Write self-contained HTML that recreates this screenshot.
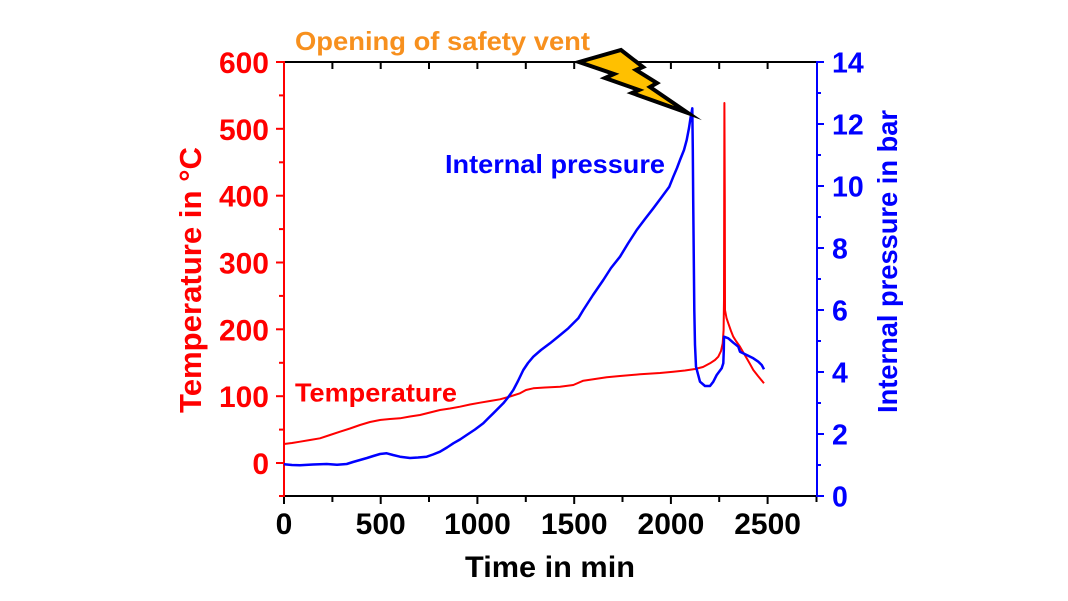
<!DOCTYPE html>
<html>
<head>
<meta charset="utf-8">
<style>
  html,body{margin:0;padding:0;background:#fff;}
  svg{display:block;}
  text{font-family:"Liberation Sans",Arial,sans-serif;font-weight:bold;}
</style>
</head>
<body>
<svg width="1068" height="601" viewBox="0 0 1068 601" xmlns="http://www.w3.org/2000/svg">
  <rect width="1068" height="601" fill="#fff"/>

  <!-- top axis (black) with inward ticks every 250 -->
  <line x1="284" y1="62" x2="817" y2="62" stroke="#000" stroke-width="2"/>
  <g stroke="#000" stroke-width="2">
    <line x1="332.4" y1="62" x2="332.4" y2="69"/>
    <line x1="380.7" y1="62" x2="380.7" y2="69"/>
    <line x1="429.0" y1="62" x2="429.0" y2="69"/>
    <line x1="477.4" y1="62" x2="477.4" y2="69"/>
    <line x1="525.8" y1="62" x2="525.8" y2="69"/>
    <line x1="574.2" y1="62" x2="574.2" y2="69"/>
    <line x1="622.5" y1="62" x2="622.5" y2="69"/>
    <line x1="670.9" y1="62" x2="670.9" y2="69"/>
    <line x1="719.2" y1="62" x2="719.2" y2="69"/>
    <line x1="767.6" y1="62" x2="767.6" y2="69"/>
  </g>

  <!-- bottom axis (black) -->
  <line x1="284" y1="496" x2="817" y2="496" stroke="#000" stroke-width="2"/>
  <g stroke="#000" stroke-width="2">
    <line x1="284.0" y1="496" x2="284.0" y2="504"/>
    <line x1="332.4" y1="496" x2="332.4" y2="502"/>
    <line x1="380.7" y1="496" x2="380.7" y2="504"/>
    <line x1="429.0" y1="496" x2="429.0" y2="502"/>
    <line x1="477.4" y1="496" x2="477.4" y2="504"/>
    <line x1="525.8" y1="496" x2="525.8" y2="502"/>
    <line x1="574.2" y1="496" x2="574.2" y2="504"/>
    <line x1="622.5" y1="496" x2="622.5" y2="502"/>
    <line x1="670.9" y1="496" x2="670.9" y2="504"/>
    <line x1="719.2" y1="496" x2="719.2" y2="502"/>
    <line x1="767.6" y1="496" x2="767.6" y2="504"/>
    <line x1="816.5" y1="496" x2="816.5" y2="502"/>
  </g>
  <g font-size="30" fill="#000" text-anchor="middle">
    <text x="284" y="534">0</text>
    <text x="380.7" y="534">500</text>
    <text x="477.4" y="534">1000</text>
    <text x="574.2" y="534">1500</text>
    <text x="670.9" y="534">2000</text>
    <text x="767.6" y="534">2500</text>
  </g>
  <text x="465" y="577" font-size="30" fill="#000" textLength="170" lengthAdjust="spacingAndGlyphs">Time in min</text>

  <!-- left axis (red) -->
  <line x1="284" y1="61" x2="284" y2="497" stroke="#f00" stroke-width="2"/>
  <g stroke="#f00" stroke-width="2">
    <line x1="276" y1="62.0" x2="284" y2="62.0"/>
    <line x1="279" y1="95.4" x2="284" y2="95.4"/>
    <line x1="276" y1="128.8" x2="284" y2="128.8"/>
    <line x1="279" y1="162.3" x2="284" y2="162.3"/>
    <line x1="276" y1="195.7" x2="284" y2="195.7"/>
    <line x1="279" y1="229.1" x2="284" y2="229.1"/>
    <line x1="276" y1="262.5" x2="284" y2="262.5"/>
    <line x1="279" y1="295.9" x2="284" y2="295.9"/>
    <line x1="276" y1="329.3" x2="284" y2="329.3"/>
    <line x1="279" y1="362.8" x2="284" y2="362.8"/>
    <line x1="276" y1="396.2" x2="284" y2="396.2"/>
    <line x1="279" y1="429.6" x2="284" y2="429.6"/>
    <line x1="276" y1="463.0" x2="284" y2="463.0"/>
    <line x1="279" y1="496.0" x2="284" y2="496.0"/>
  </g>
  <g font-size="30" fill="#f00" text-anchor="end">
    <text x="269" y="73">600</text>
    <text x="269" y="139.8">500</text>
    <text x="269" y="206.7">400</text>
    <text x="269" y="273.5">300</text>
    <text x="269" y="340.3">200</text>
    <text x="269" y="407.2">100</text>
    <text x="269" y="474">0</text>
  </g>
  <text transform="translate(201,413) rotate(-90)" font-size="31" fill="#f00" textLength="266" lengthAdjust="spacingAndGlyphs">Temperature in °C</text>

  <!-- right axis (blue) -->
  <line x1="817" y1="61" x2="817" y2="497" stroke="#00f" stroke-width="2"/>
  <g stroke="#00f" stroke-width="2">
    <line x1="817" y1="62" x2="824" y2="62"/>
    <line x1="817" y1="93" x2="821" y2="93"/>
    <line x1="817" y1="124" x2="824" y2="124"/>
    <line x1="817" y1="155" x2="821" y2="155"/>
    <line x1="817" y1="186" x2="824" y2="186"/>
    <line x1="817" y1="217" x2="821" y2="217"/>
    <line x1="817" y1="248" x2="824" y2="248"/>
    <line x1="817" y1="279" x2="821" y2="279"/>
    <line x1="817" y1="310" x2="824" y2="310"/>
    <line x1="817" y1="341" x2="821" y2="341"/>
    <line x1="817" y1="372" x2="824" y2="372"/>
    <line x1="817" y1="403" x2="821" y2="403"/>
    <line x1="817" y1="434" x2="824" y2="434"/>
    <line x1="817" y1="465" x2="821" y2="465"/>
    <line x1="817" y1="496" x2="824" y2="496"/>
  </g>
  <g font-size="28.5" fill="#00f" text-anchor="start">
    <text x="832" y="72.5">14</text>
    <text x="832" y="134.5">12</text>
    <text x="832" y="196.5">10</text>
    <text x="832" y="258.5">8</text>
    <text x="832" y="320.5">6</text>
    <text x="832" y="382.5">4</text>
    <text x="832" y="444.5">2</text>
    <text x="832" y="506.5">0</text>
  </g>
  <text transform="translate(897,413) rotate(-90)" font-size="28" fill="#00f" textLength="303" lengthAdjust="spacingAndGlyphs">Internal pressure in bar</text>

  <!-- temperature series (red) -->
  <polyline fill="none" stroke="#f00" stroke-width="2" stroke-linejoin="round"
    points="284,444 292,443 300,441.7 310,440 320,438.3 330,435 340,431.7 350,428.5 360,425 370,422 380,420 390,419 400,418.3 410,416.5 420,415 430,412.5 440,410 450,408.5 460,406.7 470,404.5 480,402.7 490,401 500,399.3 510,396.5 520,393.3 526,390 533.3,388.3 545,387.5 560,386.7 573.3,385 583.3,380.7 595,379 606.7,377.3 620,376 640,374.3 660,373 673.3,371.7 685,370.5 695,369 703,367 710,363.3 715,360 718.3,356.7 721,351 722.7,343.3 723.6,330 724,300 724.2,200 724.4,103 724.8,200 725,310 726.5,318 728.3,323.3 731,331 733.3,336.7 736,341 740,346.7 743,352 746.7,358.3 750,364 753.3,370 758,376 764,383.3"/>

  <!-- pressure series (blue) -->
  <polyline fill="none" stroke="#00f" stroke-width="2.5" stroke-linejoin="round"
    points="284,464.3 292,465 300,465.3 313,464.5 326.7,464 337,464.8 346.7,464 353,462 360,460 367,458 373.3,456 380,454 386.7,453.3 393,455 400,456.7 410,458 418,457.5 426.7,456.7 433,454.5 440,451.7 447,447.5 453.3,443.3 460,439.5 466.7,435 475,429.5 483.3,423.3 488,418.5 493.3,413.3 503.3,403.3 508,397.5 513.3,390 518,381 523.3,370 528,363 533.3,356.7 541,350 550,343.3 559,336 568.3,328.3 578.3,318.3 583.3,310 593,295 603.3,280 611,268 620,256.7 628,243.5 636.7,230 645,219 653.3,208.3 661,198 669.3,186.7 673.3,176.7 677,168 680,160 684,150 686.7,140 689,128 690.5,118 692.3,108.3 692.8,150 693.2,200 693.8,260 694.3,310 695,345 696,366.7 700,381.7 705,386 710,386 713.3,381.7 716.7,375 721.7,368.3 723.3,363.3 723.8,350 724,336.7 728.3,338.3 733.3,342.7 738.3,346.7 740,351.7 746.7,355 753.3,358.3 758.3,361.7 761.7,365 764,369.3"/>

  <!-- series labels -->
  <text x="295" y="401.7" font-size="26" fill="#f00" textLength="162" lengthAdjust="spacingAndGlyphs">Temperature</text>
  <text x="445" y="173" font-size="26" fill="#00f" textLength="220" lengthAdjust="spacingAndGlyphs">Internal pressure</text>
  <text x="295" y="50" font-size="26" fill="#f7901e" textLength="295" lengthAdjust="spacingAndGlyphs">Opening of safety vent</text>

  <!-- lightning bolt -->
  <polygon points="579,62 621,50 643,67 636,70 657,83 650,87 688,113 632,93 639,90 605,78 614,74"
    fill="#ffc000" stroke="#000" stroke-width="4" stroke-linejoin="miter" stroke-miterlimit="10"/>
</svg>
</body>
</html>
